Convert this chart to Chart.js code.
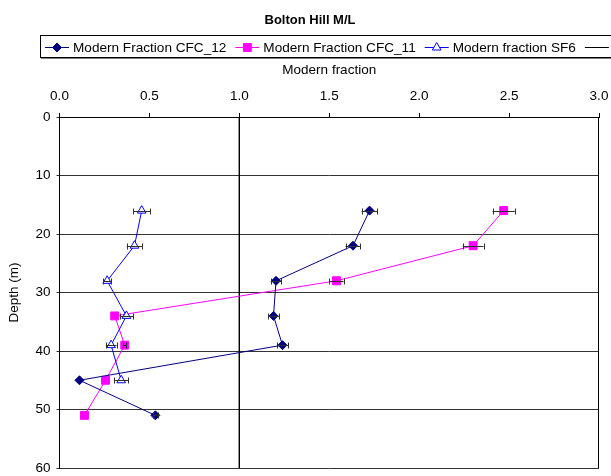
<!DOCTYPE html>
<html>
<head>
<meta charset="utf-8">
<script src="https://cdn.jsdelivr.net/npm/chart.js@4"></script>
<style>
  html, body { margin: 0; padding: 0; background: #fff; }
  #wrap { width: 611px; height: 476px; }
</style>
</head>
<body>
<div id="wrap"><canvas id="chart" width="611" height="476"></canvas></div>
<script>
// depths (m) of the samples
const depth = [16, 22, 28, 34, 39, 45, 51];
const depthSF6 = [16, 22, 28, 34, 39, 45];

// modern fractions
const cfc12 = [1.724, 1.632, 1.204, 1.19, 1.24, 0.111, 0.533];
const cfc11 = [2.47, 2.30, 1.54, 0.307, 0.363, 0.256, 0.139];
const sf6 = [0.457, 0.417, 0.265, 0.372, 0.287, 0.343];

// horizontal error (+/-)
const cfc12Err = [0.044, 0.041, 0.03, 0.03, 0.031, 0.003, 0.013];
const cfc11Err = [0.062, 0.058, 0.04, 0.008, 0.009, 0.006, 0.003];
const sf6Err = [0.047, 0.043, 0.023, 0.037, 0.03, 0.038];

// vertical reference line at modern fraction 1
const refX = [1, 1];
const refDepth = [0, 60];

const xTicks = [0, 0.5, 1, 1.5, 2, 2.5, 3];
const depthTicks = [0, 10, 20, 30, 40, 50, 60];

const FONT = "'Liberation Sans', Arial, sans-serif";

function pts(xs, ys) {
  return xs.map((x, i) => ({ x: x, y: ys[i] }));
}

// error bars, drawn through the scales
const errorBars = {
  id: "errorBars",
  afterDatasetsDraw(chart) {
    const ctx = chart.ctx;
    const xs = chart.scales.x, ys = chart.scales.y;
    ctx.save();
    ctx.strokeStyle = "#303030";
    ctx.lineWidth = 1;
    chart.data.datasets.forEach(ds => {
      if (!ds.xErr) return;
      ds.data.forEach((p, i) => {
        const e = ds.xErr[i];
        const x0 = xs.getPixelForValue(p.x - e);
        const x1 = xs.getPixelForValue(p.x + e);
        const y = Math.round(ys.getPixelForValue(p.y)) + 0.5;
        if (x1 - x0 < 3) return;
        ctx.beginPath();
        ctx.moveTo(x0, y); ctx.lineTo(x1, y);
        ctx.moveTo(Math.round(x0) + 0.5, y - 3); ctx.lineTo(Math.round(x0) + 0.5, y + 3);
        ctx.moveTo(Math.round(x1) + 0.5, y - 3); ctx.lineTo(Math.round(x1) + 0.5, y + 3);
        ctx.stroke();
      });
    });
    ctx.restore();
  }
};

function drawMarker(ctx, style, r, x, y) {
  if (style === "rectRot") {
    ctx.moveTo(x, y - r); ctx.lineTo(x + r, y); ctx.lineTo(x, y + r); ctx.lineTo(x - r, y); ctx.closePath();
  } else if (style === "rect") {
    const s = r * Math.SQRT1_2;
    ctx.rect(x - s, y - s, 2 * s, 2 * s);
  } else if (style === "triangle") {
    ctx.moveTo(x, y - r); ctx.lineTo(x + r * 0.866, y + r * 0.5); ctx.lineTo(x - r * 0.866, y + r * 0.5); ctx.closePath();
  }
}

// frame, title and legend box
const decor = {
  id: "decor",
  afterDraw(chart) {
    const ctx = chart.ctx;
    const a = chart.chartArea;
    ctx.save();
    ctx.strokeStyle = "#000";
    ctx.lineWidth = 1;
    ctx.beginPath();
    ctx.moveTo(Math.round(a.right) - 0.5, a.top);
    ctx.lineTo(Math.round(a.right) - 0.5, a.bottom);
    ctx.stroke();

    // title
    ctx.fillStyle = "#000";
    ctx.font = "bold 13px " + FONT;
    ctx.textAlign = "center";
    ctx.textBaseline = "middle";
    ctx.fillText("Bolton Hill M/L", 310, 20);

    // legend box (runs off the right edge)
    ctx.strokeStyle = "#000";
    ctx.strokeRect(40.5, 35.5, 600, 22);
    ctx.strokeStyle = "#808080";
    ctx.beginPath();
    ctx.moveTo(41, 58.5); ctx.lineTo(641, 58.5);
    ctx.stroke();

    ctx.font = "13.6px " + FONT;
    ctx.textAlign = "left";
    let x = 45;
    const y = 47;
    chart.data.datasets.forEach(ds => {
      ctx.strokeStyle = ds.borderColor;
      ctx.lineWidth = 1;
      ctx.beginPath();
      ctx.moveTo(x, y + 0.5); ctx.lineTo(x + 24, y + 0.5);
      ctx.stroke();
      if (ds.pointStyle && ds.pointRadius > 0) {
        ctx.fillStyle = ds.pointBackgroundColor;
        ctx.strokeStyle = ds.pointBorderColor;
        ctx.beginPath();
        drawMarker(ctx, ds.pointStyle, ds.pointRadius, x + 12, y + 0.5);
        ctx.fill();
        ctx.stroke();
      }
      x += 28;
      if (ds.label) {
        ctx.fillStyle = "#000";
        ctx.fillText(ds.label, x, y + 1);
        x += ctx.measureText(ds.label).width + 9;
      }
    });
    ctx.restore();
  }
};

new Chart(document.getElementById("chart"), {
  type: "scatter",
  data: {
    datasets: [
      {
        label: "Modern Fraction CFC_12",
        data: pts(cfc12, depth),
        xErr: cfc12Err,
        showLine: true,
        borderColor: "#000080",
        borderWidth: 1,
        pointStyle: "rectRot",
        pointRadius: 4.5,
        pointBackgroundColor: "#000080",
        pointBorderColor: "#000080",
        order: 2
      },
      {
        label: "Modern Fraction CFC_11",
        data: pts(cfc11, depth),
        xErr: cfc11Err,
        showLine: true,
        borderColor: "#ff00ff",
        borderWidth: 1,
        pointStyle: "rect",
        pointRadius: 5.6,
        pointBackgroundColor: "#ff00ff",
        pointBorderColor: "#ff00ff",
        order: 3
      },
      {
        label: "Modern fraction SF6",
        data: pts(sf6, depthSF6),
        xErr: sf6Err,
        showLine: true,
        borderColor: "#0000ff",
        borderWidth: 1,
        pointStyle: "triangle",
        pointRadius: 5,
        pointBackgroundColor: "#ffffff",
        pointBorderColor: "#0000ff",
        order: 1
      },
      {
        label: "",
        data: pts(refX, refDepth),
        showLine: true,
        borderColor: "#000000",
        borderWidth: 1,
        pointRadius: 0,
        pointStyle: false,
        order: 4
      }
    ]
  },
  options: {
    responsive: false,
    animation: false,
    layout: { padding: { top: 60, left: 0.5, right: 12, bottom: 8 } },
    plugins: {
      legend: { display: false },
      tooltip: { enabled: false }
    },
    scales: {
      x: {
        type: "linear",
        position: "top",
        min: 0,
        max: 3,
        afterBuildTicks: s => { s.ticks = xTicks.map(v => ({ value: v })); },
        afterFit: s => {
          s.height = 57;
          s.paddingLeft = 0; s.paddingRight = 0;
        },
        ticks: {
          color: "#000",
          font: { family: FONT, size: 13.5 },
          padding: 9,
          maxRotation: 0,
          callback: v => v.toFixed(1)
        },
        grid: { drawOnChartArea: false, drawTicks: true, tickLength: 4, color: "#000" },
        border: { display: true, color: "#000" },
        title: {
          display: true,
          text: "Modern fraction",
          color: "#000",
          font: { family: FONT, size: 13.5 },
          padding: { top: 2, bottom: 0 }
        }
      },
      y: {
        type: "linear",
        reverse: true,
        min: 0,
        max: 60,
        afterBuildTicks: s => { s.ticks = depthTicks.map(v => ({ value: v })); },
        afterFit: s => {
          s.width = 59;
          s.paddingTop = 0; s.paddingBottom = 0;
        },
        ticks: {
          color: "#000",
          font: { family: FONT, size: 13.5 },
          padding: 6
        },
        grid: { drawOnChartArea: true, drawTicks: true, tickLength: 3, color: "#333" },
        border: { display: true, color: "#000" },
        title: {
          display: true,
          text: "Depth (m)",
          color: "#000",
          font: { family: FONT, size: 13.5 },
          padding: { top: 6, bottom: 0 }
        }
      }
    }
  },
  plugins: [errorBars, decor]
});
</script>
</body>
</html>
